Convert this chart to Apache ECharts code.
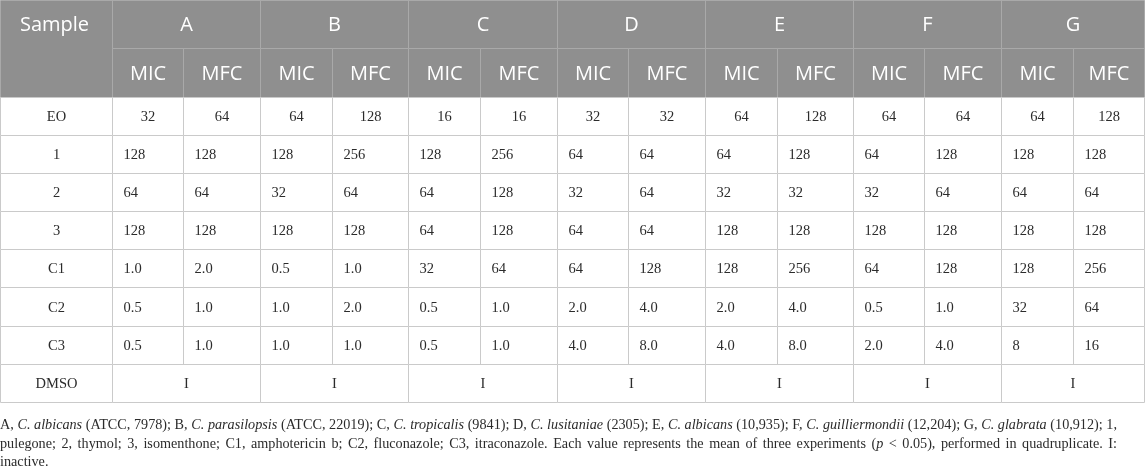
<!DOCTYPE html>
<html>
<head>
<meta charset="utf-8">
<script src="https://cdn.jsdelivr.net/npm/echarts@6/dist/echarts.min.js"></script>
<style>
html,body{margin:0;padding:0;background:#fff;}
#chart{width:1145px;height:467px;}
</style>
</head>
<body>
<div id="chart"></div>
<script>
// ---- data ----
const groups = ['A', 'B', 'C', 'D', 'E', 'F', 'G'];
const subHeaders = ['MIC', 'MFC'];
const cornerLabel = 'Sample';
const rowLabels = ['EO', '1', '2', '3', 'C1', 'C2', 'C3', 'DMSO'];
const rowEO = ['32', '64', '64', '128', '16', '16', '32', '32', '64', '128', '64', '64', '64', '128'];
const row1 = ['128', '128', '128', '256', '128', '256', '64', '64', '64', '128', '64', '128', '128', '128'];
const row2 = ['64', '64', '32', '64', '64', '128', '32', '64', '32', '32', '32', '64', '64', '64'];
const row3 = ['128', '128', '128', '128', '64', '128', '64', '64', '128', '128', '128', '128', '128', '128'];
const rowC1 = ['1.0', '2.0', '0.5', '1.0', '32', '64', '64', '128', '128', '256', '64', '128', '128', '256'];
const rowC2 = ['0.5', '1.0', '1.0', '2.0', '0.5', '1.0', '2.0', '4.0', '2.0', '4.0', '0.5', '1.0', '32', '64'];
const rowC3 = ['0.5', '1.0', '1.0', '1.0', '0.5', '1.0', '4.0', '8.0', '4.0', '8.0', '2.0', '4.0', '8', '16'];
const rowDMSO = ['I', 'I', 'I', 'I', 'I', 'I', 'I']; // one per merged group
const footnoteLines = [
  [['A, ', 0], ['C. albicans', 1], [' (ATCC, 7978); B, ', 0], ['C. parasilopsis', 1], [' (ATCC, 22019); C, ', 0], ['C. tropicalis', 1], [' (9841); D, ', 0], ['C. lusitaniae', 1], [' (2305); E, ', 0], ['C. albicans', 1], [' (10,935); F, ', 0], ['C. guilliermondii', 1], [' (12,204); G, ', 0], ['C. glabrata', 1], [' (10,912); 1,', 0]],
  [['pulegone; 2, thymol; 3, isomenthone; C1, amphotericin b; C2, fluconazole; C3, itraconazole. Each value represents the mean of three experiments (', 0], ['p', 1], [' < 0.05), performed in quadruplicate. I:', 0]],
  [['inactive.', 0]]
];

// ---- layout ----
const colWidths = [112, 71, 77, 72, 76, 72, 77, 71, 77, 72, 76, 71, 77, 72, 71];
const headRowHeights = [48, 48.5];
const bodyRowHeight = 38.2;
const noteFont = 'Liberation Serif';
const noteSize = 14.2;
const noteWidth = 1117;

const colEdges = [0];
colWidths.forEach(w => colEdges.push(colEdges[colEdges.length - 1] + w));
const rowEdges = [0];
headRowHeights.forEach(h => rowEdges.push(rowEdges[rowEdges.length - 1] + h));
rowLabels.forEach(() => rowEdges.push(rowEdges[rowEdges.length - 1] + bodyRowHeight));
const totalW = colEdges[colEdges.length - 1];
const totalH = rowEdges[rowEdges.length - 1];

// ---- build cells ----
const cells = [];
function addCell(c0, c1, r0, r1, text, kind, align, vrow) {
  cells.push({ c0, c1, r0, r1, text, kind, align, vrow });
}
addCell(0, 1, 0, 2, cornerLabel, 'head', 'center', 0);
groups.forEach((g, i) => {
  addCell(1 + 2 * i, 3 + 2 * i, 0, 1, g, 'head', 'center');
  subHeaders.forEach((s, j) => addCell(1 + 2 * i + j, 2 + 2 * i + j, 1, 2, s, 'head', 'center'));
});
const bodyRows = [rowEO, row1, row2, row3, rowC1, rowC2, rowC3];
bodyRows.forEach((vals, r) => {
  addCell(0, 1, 2 + r, 3 + r, rowLabels[r], 'body', 'center');
  vals.forEach((v, c) => addCell(1 + c, 2 + c, 2 + r, 3 + r, v, 'body', r === 0 ? 'center' : 'left'));
});
const dmsoRow = 2 + bodyRows.length;
addCell(0, 1, dmsoRow, dmsoRow + 1, rowLabels[rowLabels.length - 1], 'body', 'center');
rowDMSO.forEach((v, i) => addCell(1 + 2 * i, 3 + 2 * i, dmsoRow, dmsoRow + 1, v, 'body', 'center'));

const seriesData = cells.map(c => [colEdges[c.c0], rowEdges[c.r0], colEdges[c.c1], rowEdges[c.r1]]);

const chart = echarts.init(document.getElementById('chart'), null, { renderer: 'canvas' });

function renderItem(params, api) {
  const cell = cells[params.dataIndex];
  const p0 = api.coord([api.value(0), api.value(1)]);
  const p1 = api.coord([api.value(2), api.value(3)]);
  const x0 = Math.round(p0[0]) + 0.5, y0 = Math.round(p0[1]) + 0.5;
  const x1 = Math.round(p1[0]) + 0.5, y1 = Math.round(p1[1]) + 0.5;
  const isHead = cell.kind === 'head';
  let ty = (y0 + y1) / 2;
  if (cell.vrow !== undefined) {
    const q = api.coord([0, (rowEdges[cell.vrow] + rowEdges[cell.vrow + 1]) / 2]);
    ty = q[1];
  }
  let tx, align;
  if (cell.align === 'left') { tx = x0 + 11; align = 'left'; }
  else { tx = (x0 + x1) / 2; align = 'center'; }
  if (cell.c0 === 0 && isHead) tx -= 2;
  return {
    type: 'group',
    children: [
      {
        type: 'rect',
        shape: { x: x0, y: y0, width: x1 - x0, height: y1 - y0 },
        style: {
          fill: isHead ? '#8f8f8f' : '#ffffff',
          stroke: isHead ? '#a9a9a9' : '#cacaca',
          lineWidth: 1
        }
      },
      {
        type: 'text',
        style: {
          text: cell.text,
          x: tx,
          y: ty + 1,
          align: align,
          verticalAlign: 'middle',
          fill: isHead ? '#ffffff' : '#2b2b2b',
          font: isHead ? '20px "Open Sans"' : '14.5px "Liberation Serif"'
        }
      }
    ]
  };
}

// ---- justified footnote (rich text, spaces widened per line) ----
const mctx = document.createElement('canvas').getContext('2d');
function measure(t, italic) {
  mctx.font = (italic ? 'italic ' : '') + noteSize + 'px "' + noteFont + '"';
  return mctx.measureText(t).width;
}
const rich = {
  n: { fontFamily: noteFont, fontSize: noteSize, lineHeight: 18.5, fill: '#2b2b2b' },
  i: { fontFamily: noteFont, fontSize: noteSize, fontStyle: 'italic', lineHeight: 18.5, fill: '#2b2b2b' }
};
const spaceW = measure(' ', false);
const noteText = footnoteLines.map((line, li) => {
  const tokens = [];
  line.forEach(([t, it]) => {
    t.split(/( )/).forEach(p => {
      if (p === '') return;
      tokens.push(p === ' ' ? { sp: true } : { t: p, it });
    });
  });
  const nSp = tokens.filter(k => k.sp).length;
  const natural = tokens.reduce((s, k) => s + (k.sp ? spaceW : measure(k.t, k.it)), 0);
  const last = li === footnoteLines.length - 1;
  const sw = last ? spaceW : spaceW + (noteWidth - natural) / nSp;
  rich['s' + li] = { width: sw, fontFamily: noteFont, fontSize: noteSize, lineHeight: 18.5 };
  return tokens.map(k => k.sp ? '{s' + li + '| }' : '{' + (k.it ? 'i' : 'n') + '|' + k.t + '}').join('');
}).join('\n');

chart.setOption({
  animation: false,
  grid: { left: 0, top: 0, width: totalW, height: totalH, containLabel: false, show: false },
  xAxis: { type: 'value', min: 0, max: totalW, show: false },
  yAxis: { type: 'value', min: 0, max: totalH, inverse: true, show: false },
  series: [{
    type: 'custom',
    coordinateSystem: 'cartesian2d',
    renderItem: renderItem,
    data: seriesData,
    clip: false,
    silent: true
  }],
  graphic: [{
    type: 'text',
    left: 0,
    top: 416.5,
    silent: true,
    style: {
      text: noteText,
      fill: '#2b2b2b',
      font: noteSize + 'px "' + noteFont + '"',
      lineHeight: 18.5,
      rich: rich
    }
  }]
});
</script>
</body>
</html>
